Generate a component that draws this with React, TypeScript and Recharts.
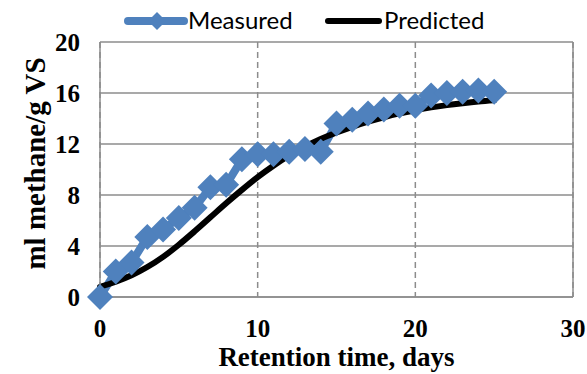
import { CartesianGrid, Line, LineChart, ReferenceLine, XAxis, YAxis } from "recharts";

const days = [0, 1, 2, 3, 4, 5, 6, 7, 8, 9, 10, 11, 12, 13, 14, 15, 16, 17, 18, 19, 20, 21, 22, 23, 24, 25];
const measured = [0, 2.0, 2.7, 4.7, 5.3, 6.2, 7.0, 8.6, 8.8, 10.8, 11.2, 11.2, 11.4, 11.6, 11.4, 13.6, 13.9, 14.4, 14.7, 15.0, 15.0, 15.8, 16.0, 16.1, 16.2, 16.1];
const predicted = [0.8, 1.2, 1.7, 2.35, 3.15, 4.1, 5.15, 6.25, 7.35, 8.4, 9.4, 10.3, 11.1, 11.8, 12.4, 12.9, 13.35, 13.75, 14.1, 14.4, 14.65, 14.87, 15.05, 15.2, 15.33, 15.43];
const xTicks = [0, 10, 20, 30];
const yTicks = [0, 4, 8, 12, 16, 20];

const data = days.map((d, i) => ({ day: d, measured: measured[i], predicted: predicted[i] }));

const BLUE = "#4F81BD";
const GRID = "#8c8c8c";
const serif = "'Liberation Serif', 'Times New Roman', serif";
const tickStyle = { fontFamily: serif, fontWeight: 700, fontSize: 25, fill: "#000" };

function Diamond(props: any) {
  const { cx, cy, index } = props;
  if (cx == null || cy == null) return null;
  const r = 13;
  return (
    <polygon
      key={index}
      points={`${cx},${cy - r} ${cx + r},${cy} ${cx},${cy + r} ${cx - r},${cy}`}
      fill={BLUE}
    />
  );
}

function LegendBox() {
  const font = { fontFamily: "Lato, 'Open Sans', sans-serif", fontSize: 24, fill: "#000" };
  return (
    <svg width={587} height={40} style={{ position: "absolute", left: 0, top: 0 }}>
      <line x1={128} y1={21} x2={184} y2={21} stroke={BLUE} strokeWidth={8} strokeLinecap="round" />
      <polygon points="157,12 166,21 157,30 148,21" fill={BLUE} />
      <text x={188} y={29} {...font}>Measured</text>
      <line x1={328} y1={21} x2={379} y2={21} stroke="#000" strokeWidth={6} strokeLinecap="round" />
      <text x={384} y={29} {...font}>Predicted</text>
    </svg>
  );
}

export default function App() {
  return (
    <div style={{ position: "relative", width: 587, height: 374, background: "#fff" }}>
      <style>{"body{margin:0}"}</style>
      <LineChart width={587} height={374} data={data} margin={{ top: 42, right: 14, bottom: 0, left: 0 }}>
        <CartesianGrid vertical={false} stroke={GRID} strokeWidth={1.5} />
        <CartesianGrid horizontal={false} stroke={GRID} strokeWidth={1.5} strokeDasharray="6 4" />
        <ReferenceLine x={30} stroke={GRID} strokeWidth={1.5} />
        <XAxis
          dataKey="day"
          type="number"
          domain={[0, 30]}
          ticks={xTicks}
          height={77}
          stroke={GRID}
          strokeWidth={1.5}
          tickLine={false}
          tickSize={0}
          tickMargin={22}
          tick={tickStyle}
          label={{
            content: (p: any) => {
              const vb = p.viewBox;
              return (
                <text x={vb.x + vb.width / 2} y={366} textAnchor="middle" fontFamily={serif} fontWeight={700} fontSize={27} fill="#000">
                  Retention time, days
                </text>
              );
            },
          }}
        />
        <YAxis
          type="number"
          domain={[0, 20]}
          ticks={yTicks}
          width={100}
          stroke={GRID}
          strokeWidth={1.5}
          tickLine={false}
          tickSize={0}
          tickMargin={20}
          tick={tickStyle}
          label={{
            content: (p: any) => {
              const vb = p.viewBox;
              const cx = vb.x + 35;
              const cy = vb.y + vb.height / 2 - 6;
              return (
                <text x={cx} y={cy} transform={`rotate(-90 ${cx} ${cy})`} textAnchor="middle" dominantBaseline="central" fontFamily={serif} fontWeight={700} fontSize={29} fill="#000">
                  ml methane/g VS
                </text>
              );
            },
          }}
        />
        <Line
          dataKey="measured"
          name="Measured"
          stroke={BLUE}
          strokeWidth={8}
          dot={Diamond}
          activeDot={false}
          isAnimationActive={false}
        />
        <Line
          dataKey="predicted"
          name="Predicted"
          type="monotone"
          stroke="#000"
          strokeWidth={6}
          strokeLinecap="round"
          dot={false}
          activeDot={false}
          isAnimationActive={false}
        />
      </LineChart>
      <LegendBox />
    </div>
  );
}
